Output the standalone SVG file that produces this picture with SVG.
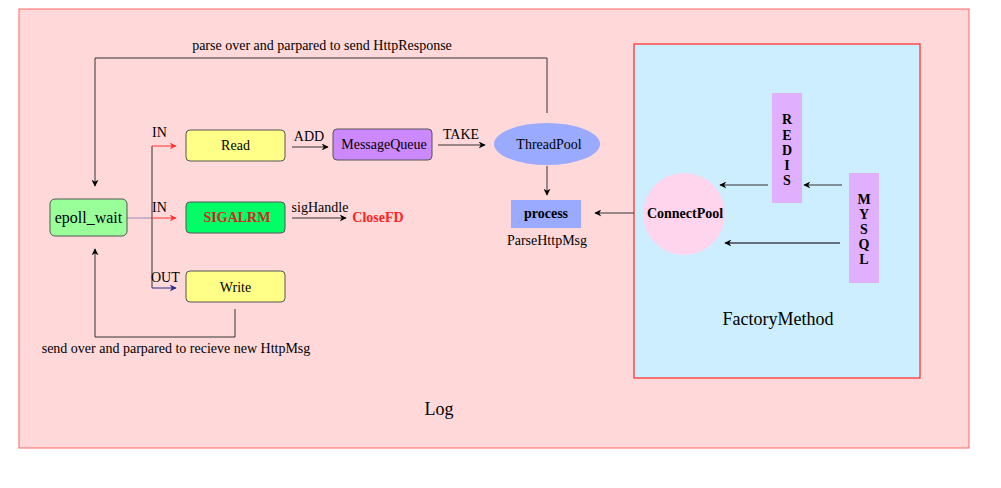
<svg xmlns="http://www.w3.org/2000/svg" width="1001" height="488" viewBox="0 0 1001 488" font-family="'Liberation Serif','Times New Roman','DejaVu Serif',serif">
<defs>
<marker id="ab" viewBox="0 0 10 10" refX="9" refY="5" markerWidth="7" markerHeight="7" orient="auto" markerUnits="userSpaceOnUse"><path d="M0,0 L10,5 L0,10 L3,5 Z" fill="#000"/></marker>
<marker id="ar" viewBox="0 0 10 10" refX="9" refY="5" markerWidth="7" markerHeight="7" orient="auto" markerUnits="userSpaceOnUse"><path d="M0,0 L10,5 L0,10 L3,5 Z" fill="#ff3333"/></marker>
<marker id="an" viewBox="0 0 10 10" refX="9" refY="5" markerWidth="7" markerHeight="7" orient="auto" markerUnits="userSpaceOnUse"><path d="M0,0 L10,5 L0,10 L3,5 Z" fill="#2a2a8a"/></marker>
</defs>
<style>
text{font-family:'Liberation Serif','Times New Roman','DejaVu Serif',serif;fill:#000}
.lbl{font-size:14px}
.node{stroke:#555;stroke-width:1}
.c{fill:none;stroke:#333;stroke-width:1}
.b{font-weight:bold}
</style>
<rect width="1001" height="488" fill="#fff"/>
<g id="log">
<rect x="19" y="9" width="950" height="439" fill="#ffd9d9" stroke="#ff6666" stroke-width="1"/>
<text x="439" y="415" font-size="18" text-anchor="middle">Log</text>
</g>
<g id="factory">
<rect x="634" y="44" width="286" height="334" fill="#cceeff" stroke="#ff3333" stroke-width="1.3"/>
<text x="778" y="325" font-size="18" text-anchor="middle">FactoryMethod</text>
</g>
<g id="connectors">
<polyline class="c" points="547,113 547,58 95,58 95,186" marker-end="url(#ab)"/>
<polyline class="c" points="235,309 235,337 95,337 95,249" marker-end="url(#ab)"/>
<line x1="127" y1="218" x2="152" y2="218" stroke="#9988bb" stroke-width="1"/>
<line x1="152" y1="146" x2="152" y2="288" stroke="#333" stroke-width="1"/>
<line x1="152" y1="146" x2="176" y2="146" stroke="#ff3333" marker-end="url(#ar)"/>
<line x1="152" y1="218" x2="176" y2="218" stroke="#ff3333" marker-end="url(#ar)"/>
<line x1="152" y1="288" x2="176" y2="288" stroke="#2a2a8a" marker-end="url(#an)"/>
<line class="c" x1="292" y1="147" x2="328" y2="147" marker-end="url(#ab)"/>
<line class="c" x1="438" y1="145" x2="485" y2="145" marker-end="url(#ab)"/>
<line class="c" x1="547" y1="166" x2="547" y2="195" marker-end="url(#ab)"/>
<line class="c" x1="292" y1="218" x2="346" y2="218" marker-end="url(#ab)"/>
<line class="c" x1="634" y1="213" x2="595" y2="213" marker-end="url(#ab)"/>
<line class="c" x1="768" y1="185" x2="720" y2="185" marker-end="url(#ab)"/>
<line class="c" x1="842" y1="185" x2="804" y2="185" marker-end="url(#ab)"/>
<line x1="840" y1="243" x2="725" y2="243" stroke="#445" stroke-width="1.5" marker-end="url(#ab)"/>
<text class="lbl" x="322" y="50" text-anchor="middle">parse over and parpared to send HttpResponse</text>
<text class="lbl" x="176" y="353" text-anchor="middle">send over and parpared to recieve new HttpMsg</text>
<text class="lbl" x="152" y="137">IN</text>
<text class="lbl" x="152" y="212">IN</text>
<text class="lbl" x="151" y="282">OUT</text>
<text class="lbl" x="309" y="141" text-anchor="middle">ADD</text>
<text class="lbl" x="461" y="139" text-anchor="middle">TAKE</text>
<text class="lbl" x="320" y="212" text-anchor="middle">sigHandle</text>
</g>
<g id="epoll_wait">
<rect class="node" x="50" y="199" width="77" height="37" rx="5" fill="#99ff99"/>
<text x="88.5" y="223" font-size="16" text-anchor="middle">epoll_wait</text>
</g>
<g id="read">
<rect class="node" x="186" y="130" width="99" height="31" rx="4" fill="#ffff88"/>
<text class="lbl" x="235.5" y="150" text-anchor="middle">Read</text>
</g>
<g id="sigalrm">
<rect class="node" x="186" y="202" width="99" height="31" rx="4" fill="#00ff66"/>
<text class="lbl b" x="237" y="222" text-anchor="middle" style="fill:#dd2222">SIGALRM</text>
</g>
<g id="write">
<rect class="node" x="186" y="271" width="99" height="31" rx="4" fill="#ffff88"/>
<text class="lbl" x="235.5" y="292" text-anchor="middle">Write</text>
</g>
<g id="messagequeue">
<rect class="node" x="333" y="129" width="99" height="31" rx="4" fill="#cc88ff"/>
<text class="lbl" x="384" y="149" text-anchor="middle">MessageQueue</text>
</g>
<g id="closefd">
<text class="lbl b" x="378" y="222" text-anchor="middle" style="fill:#ff2222">CloseFD</text>
</g>
<g id="threadpool">
<ellipse cx="547" cy="144" rx="53" ry="21" fill="#99aaff"/>
<text class="lbl" x="549" y="149" text-anchor="middle">ThreadPool</text>
</g>
<g id="process">
<rect x="511" y="200" width="70" height="28" fill="#99aaff"/>
<text class="lbl b" x="546" y="218" text-anchor="middle">process</text>
<text class="lbl" x="547" y="245" text-anchor="middle">ParseHttpMsg</text>
</g>
<g id="connectpool">
<circle cx="684" cy="214" r="41" fill="#ffd5ee"/>
<text class="lbl b" x="685" y="218" text-anchor="middle">ConnectPool</text>
</g>
<g id="redis">
<rect x="772" y="93" width="30" height="110" fill="#e0b0ff"/>
<text class="lbl b" text-anchor="middle"><tspan x="787" y="124">R</tspan><tspan x="787" y="140">E</tspan><tspan x="787" y="155">D</tspan><tspan x="787" y="170">I</tspan><tspan x="787" y="185">S</tspan></text>
</g>
<g id="mysql">
<rect x="849" y="173" width="30" height="110" fill="#e0b0ff"/>
<text class="lbl b" text-anchor="middle"><tspan x="864" y="204">M</tspan><tspan x="864" y="219">Y</tspan><tspan x="864" y="234">S</tspan><tspan x="864" y="249">Q</tspan><tspan x="864" y="264">L</tspan></text>
</g>
</svg>
